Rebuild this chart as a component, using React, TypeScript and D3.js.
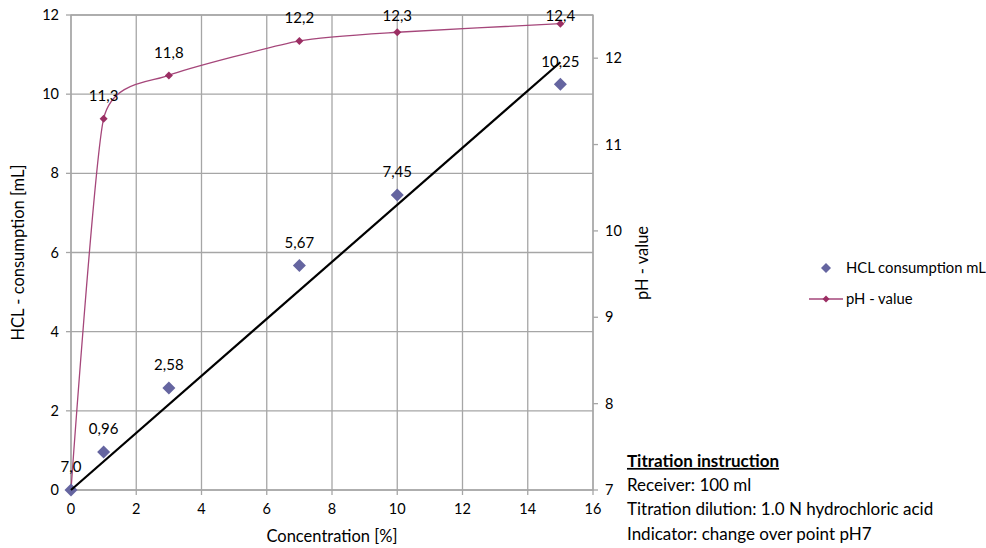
import * as React from 'react';
import * as d3 from 'd3';

// concentration [%]
const concentration = [0, 1, 3, 7, 10, 15];
// HCL consumption [mL]
const hclValues = [0, 0.96, 2.58, 5.67, 7.45, 10.25];
const hclLabels = ['', '0,96', '2,58', '5,67', '7,45', '10,25'];
// pH value
const phValues = [7.0, 11.3, 11.8, 12.2, 12.3, 12.4];
const phLabels = ['7,0', '11,3', '11,8', '12,2', '12,3', '12,4'];

const xTicks = [0, 2, 4, 6, 8, 10, 12, 14, 16];
const yTicks = [0, 2, 4, 6, 8, 10, 12];
const phTicks = [7, 8, 9, 10, 11, 12];

const infoLines = [
    'Receiver: 100 ml',
    'Titration dilution: 1.0 N hydrochloric acid',
    'Indicator: change over point pH7',
];

const FONT = "Lato, 'Open Sans', sans-serif";
const HCL_COLOR = '#6565a0';
const PH_COLOR = '#9b2e63';
const PH_LINE = '#a5467a';
const GRID = '#a6a6a6';

const diamond = (r: number) => `M0,${-r}L${r},0L0,${r}L${-r},0Z`;

const App = () => {
    const width = 986;
    const height = 548;
    const margin = { top: 15, left: 71, right: 393, bottom: 58 };

    const x = d3.scaleLinear().domain([0, 16]).range([margin.left, width - margin.right]);
    const y = d3.scaleLinear().domain([0, 12]).range([height - margin.bottom, margin.top]);
    const yPh = d3.scaleLinear().domain([7, 12.5]).range([height - margin.bottom, margin.top]);

    // linear trendline through origin
    const slope = d3.sum(concentration, (c, i) => c * hclValues[i]) / d3.sum(concentration, c => c * c);
    const xMax = d3.max(concentration)!;

    const phLine = d3.line<number>()
        .x((_, i) => x(concentration[i]))
        .y(d => yPh(d))
        .curve(d3.curveCardinal.tension(0.45));

    const x0 = x(0), x1 = x(16), yb = y(0), yt = y(12);

    return (
        <div style={{ position: 'absolute', left: 0, top: 0 }}>
            <svg width={width} height={height} style={{ display: 'block', background: 'white' }} fontFamily={FONT}>
                {/* grid */}
                {yTicks.map(t => (
                    <line key={'gy' + t} x1={x0} x2={x1} y1={y(t)} y2={y(t)} stroke={GRID} strokeWidth={1.3} />
                ))}
                {xTicks.map(t => (
                    <line key={'gx' + t} x1={x(t)} x2={x(t)} y1={yt} y2={yb} stroke={GRID} strokeWidth={1.3} />
                ))}
                <rect x={x0} y={yt} width={x1 - x0} height={yb - yt} fill="none" stroke={GRID} strokeWidth={1.3} />

                {/* left axis ticks */}
                {yTicks.map(t => (
                    <g key={'ly' + t}>
                        <line x1={x0 - 5} x2={x0} y1={y(t)} y2={y(t)} stroke={GRID} strokeWidth={1.3} />
                        <text x={x0 - 12} y={y(t)} dy="0.35em" textAnchor="end" fontSize={14.5} fill="#000">{t}</text>
                    </g>
                ))}
                {/* bottom axis ticks */}
                {xTicks.map(t => (
                    <g key={'lx' + t}>
                        <line x1={x(t)} x2={x(t)} y1={yb} y2={yb + 5} stroke={GRID} strokeWidth={1.3} />
                        <text x={x(t)} y={yb + 24} textAnchor="middle" fontSize={14.5} fill="#000">{t}</text>
                    </g>
                ))}
                {/* right axis ticks */}
                {phTicks.map(t => (
                    <g key={'ry' + t}>
                        <line x1={x1} x2={x1 + 5} y1={yPh(t)} y2={yPh(t)} stroke={GRID} strokeWidth={1.3} />
                        <text x={x1 + 12} y={yPh(t)} dy="0.35em" textAnchor="start" fontSize={14.5} fill="#000">{t}</text>
                    </g>
                ))}

                {/* axis titles */}
                <text transform={`translate(24,${(yt + yb) / 2}) rotate(-90)`} textAnchor="middle" fontSize={16.5}>HCL - consumption [mL]</text>
                <text x={(x0 + x1) / 2} y={542} textAnchor="middle" fontSize={16.5}>Concentration [%]</text>
                <text transform={`translate(648,263) rotate(-90)`} textAnchor="middle" fontSize={16.5}>pH - value</text>

                {/* pH curve */}
                <path d={phLine(phValues) || ''} fill="none" stroke={PH_LINE} strokeWidth={1.3} />
                {phValues.map((v, i) => (
                    <path key={'pm' + i} d={diamond(4)} transform={`translate(${x(concentration[i])},${yPh(v)})`} fill={PH_COLOR} />
                ))}

                {/* HCL markers */}
                {hclValues.map((v, i) => (
                    <path key={'hm' + i} d={diamond(6.5)} transform={`translate(${x(concentration[i])},${y(v)})`} fill={HCL_COLOR} />
                ))}

                {/* trendline */}
                <line x1={x(0)} y1={y(0)} x2={x(xMax)} y2={y(slope * xMax)} stroke="#000" strokeWidth={2.2} />

                {/* labels */}
                {hclLabels.map((l, i) => (
                    <text key={'hl' + i} x={x(concentration[i])} y={y(hclValues[i]) - 23} dy="0.35em" textAnchor="middle" fontSize={15}>{l}</text>
                ))}
                {phLabels.map((l, i) => (
                    <text key={'pl' + i} x={x(concentration[i])} y={Math.max(yPh(phValues[i]) - 23, 16)} dy="0.35em" textAnchor="middle" fontSize={15}>{l}</text>
                ))}

                {/* legend */}
                <path d={diamond(5)} transform="translate(826,268)" fill={HCL_COLOR} />
                <text x={846} y={268} dy="0.35em" fontSize={14.8}>HCL consumption mL</text>
                <line x1={809} x2={843} y1={299} y2={299} stroke={PH_LINE} strokeWidth={1.3} />
                <path d={diamond(3.5)} transform="translate(826,299)" fill={PH_COLOR} />
                <text x={846} y={299} dy="0.35em" fontSize={14.8}>pH - value</text>

                {/* info box */}
                <text x={627} y={461} dy="0.35em" fontSize={17} fontWeight="bold" textDecoration="underline">Titration instruction</text>
                {infoLines.map((l, i) => (
                    <text key={'il' + i} x={627} y={485 + i * 24.3} dy="0.35em" fontSize={17}>{l}</text>
                ))}
            </svg>
        </div>
    );
};

export default App;
